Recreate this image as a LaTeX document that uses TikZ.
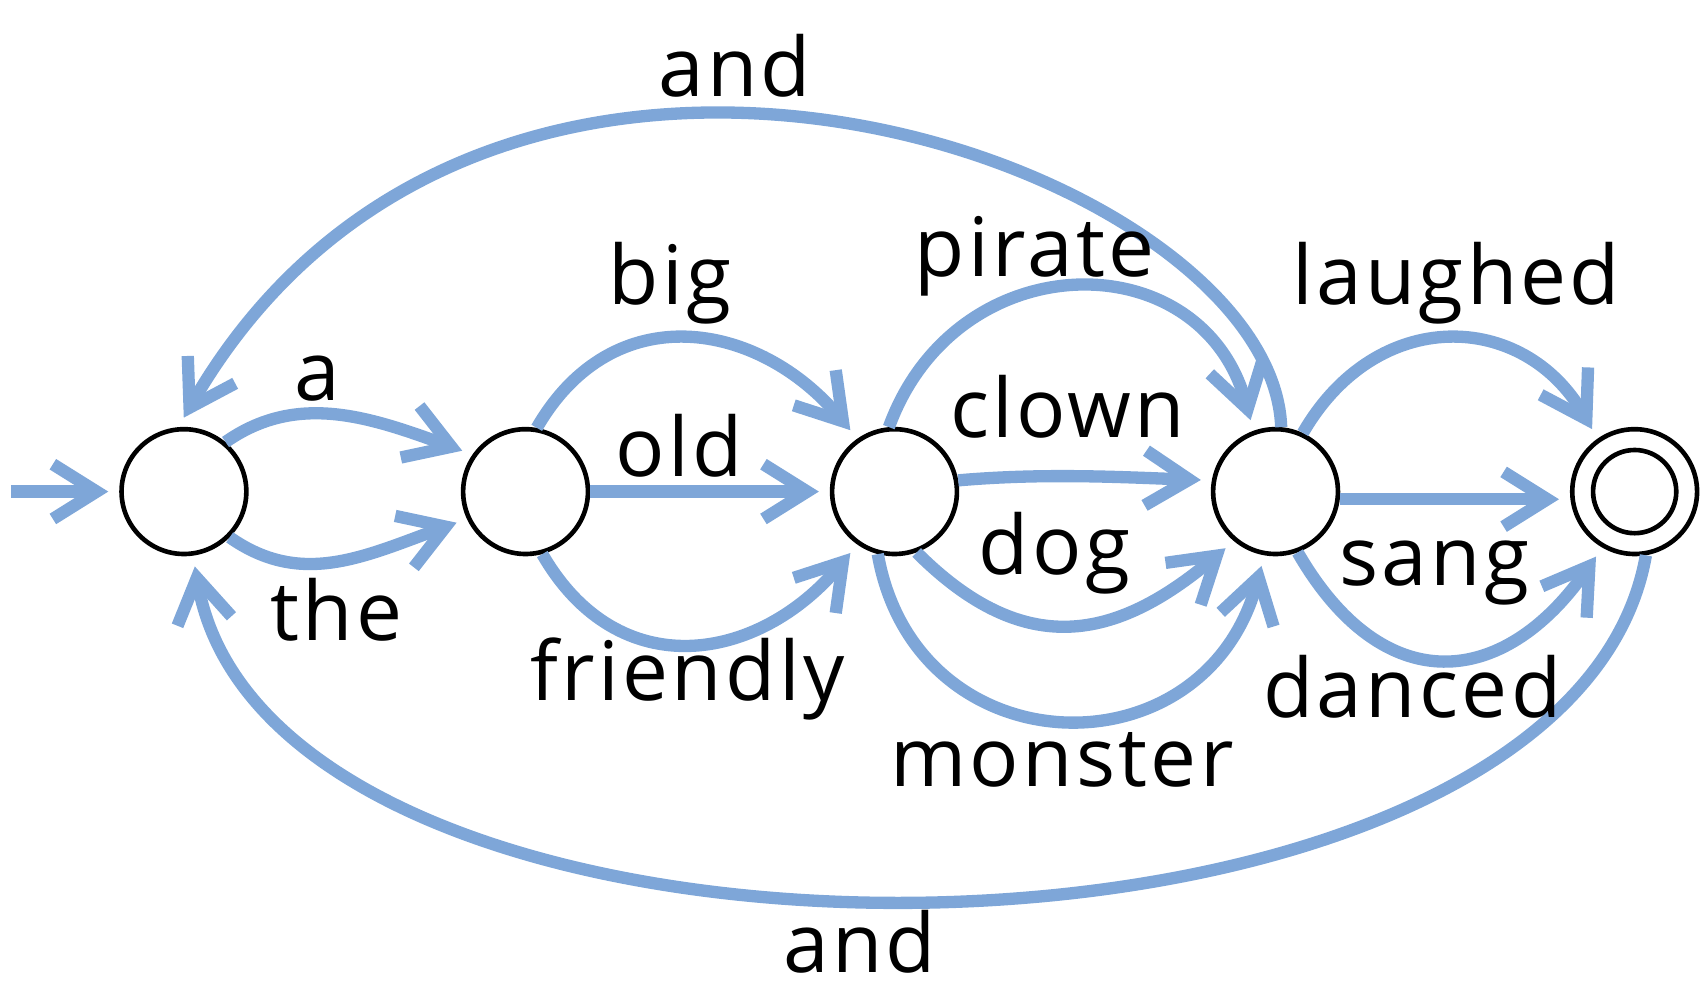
\documentclass[tikz,border=0pt]{standalone}
\usepackage{fontspec}
\setmainfont{Open Sans}[LetterSpace=4]
\usetikzlibrary{arrows.meta}
\definecolor{arcblue}{RGB}{126,166,216}
\begin{document}
\begin{tikzpicture}[
	state/.style={circle,draw,line width=1.2pt,minimum size=1.14cm,inner sep=0pt,fill=white},
	accept/.style={state,path picture={\draw[line width=1.2pt] (path picture bounding box.center) circle (.38cm);}},
	trans/.style={arcblue,line width=3.2pt,-{Straight Barb[length=4mm,width=5mm]},shorten >=1mm},
	lbl/.style={anchor=base,inner sep=0pt,font=\fontsize{21.3}{24}\selectfont}]
	\useasboundingbox (0,0) rectangle (15.6,-9.124);
	%Trạng thái
	\node[state] (q0) at (1.68,-4.49) {};
	\node[state] (q1) at (4.80,-4.49) {};
	\node[state] (q2) at (8.17,-4.49) {};
	\node[state] (q3) at (11.65,-4.49) {};
	\node[accept] (q4) at (14.93,-4.49) {};
	\coordinate (vao) at (.1,-4.49);
	%Cung
	\draw[trans] (vao) -- (q0);
	\draw[trans] (q0.50) ..controls +(35:.8) and +(160:1) .. (q1.145);
	\draw[trans] (q0.-45) ..controls +(-35:.8) and +(-160:1) .. (q1.-155);
	\draw[trans] (q1.80) ..controls +(60:1.4) and +(130:1.4) .. (q2.125);
	\draw[trans] (q1) -- (q2);
	\draw[trans] (q1.-75) ..controls +(-60:1.4) and +(-130:1.4) .. (q2.-125);
	\draw[trans] (q2.95) ..controls +(70:1.8) and +(105:1.8) .. (q3.110);
	\draw[trans] (q2.10) ..controls +(5:.8) and +(178:.8) .. (q3.170);
	\draw[trans] (q2.-70) ..controls +(-45:1.4) and +(-140:1.4) .. (q3.-130);
	\draw[trans] (q2.-105) ..controls +(-80:2) and +(-105:2.1) .. (q3.-100);
	\draw[trans] (q3.65) ..controls +(60:1.35) and +(120:1.35) .. (q4.125);
	\draw[trans] ([yshift=-.7mm]q3.east) -- ([yshift=-.7mm]q4.west);
	\draw[trans] (q3.-70) ..controls +(-60:1.57) and +(-125:1.57) .. (q4.-120);
	%Cung quay lại
	\draw[trans] (q3.85) ..controls +(92:2.4) and +(60:5.7) .. (q0.95);
	\draw[trans] (q4.-80) ..controls +(-100:4.2) and +(-80:4.3) .. (q0.-82);
	%Nhãn
	\node[lbl] (lA) at (2.90,-3.66) {a};
	\node[lbl] (lThe) at (3.07,-5.85) {the};
	\node[lbl] (lBig) at (6.12,-2.78) {big};
	\node[lbl] (lOld) at (6.20,-4.35) {old};
	\node[lbl] (lFriendly) at (6.28,-6.40) {friendly};
	\node[lbl] (lPirate) at (9.45,-2.53) {pirate};
	\node[lbl] (lClown) at (9.75,-4.00) {clown};
	\node[lbl] (lDog) at (9.63,-5.25) {dog};
	\node[lbl] (lMonster) at (9.70,-7.18) {monster};
	\node[lbl] (lLaughed) at (13.30,-2.78) {laughed};
	\node[lbl] (lSang) at (13.10,-5.35) {sang};
	\node[lbl] (lDanced) at (12.90,-6.55) {danced};
	\node[lbl] (lAndT) at (6.71,-.88) {and};
	\node[lbl] (lAndB) at (7.85,-8.88) {and};
\end{tikzpicture}
\end{document}
